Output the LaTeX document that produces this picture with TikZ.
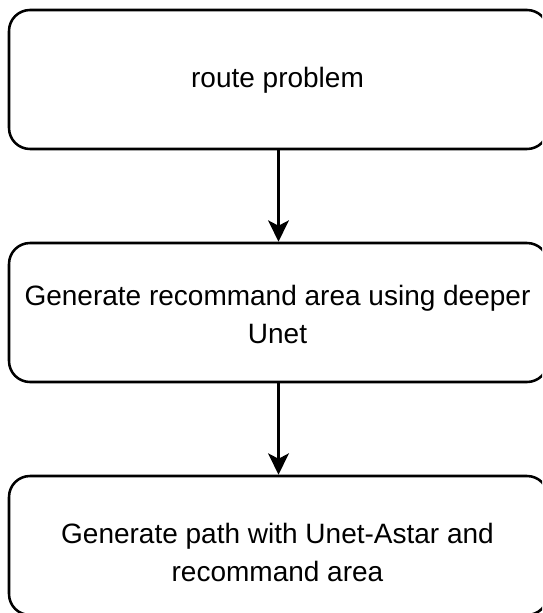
\documentclass[tikz,border=0pt]{standalone}
\usepackage{fontspec}
\setmainfont{Liberation Sans}
\usetikzlibrary{arrows.meta}

\tikzset{
  stepbox/.style={draw, line width=1.9pt, rounded corners=15.75pt, minimum width=404.25pt, minimum height=104.25pt, inner sep=0pt},
  linetext/.style={anchor=base, inner sep=0.75pt, font=\fontsize{21pt}{28.5pt}\selectfont},
  flow/.style={line width=1.9pt, -{Stealth[length=16pt, width=15.5pt, inset=4pt]}}
}

\begin{document}
\begin{tikzpicture}[x=0.75pt,y=0.75pt,yscale=-1,xscale=1]
\useasboundingbox (0,0) rectangle (542,613);
\clip (0,0) rectangle (542,613);

%Rounded Rect
\node [stepbox] (route) at (278.5,79.5) {};
%Rounded Rect
\node [stepbox] (recom) at (278.5,312.5) {};
%Rounded Rect
\node [stepbox] (path) at (278.5,545.5) {};

% Text Node
\node [linetext] (routetxt) at (277.5,88) {route problem};
% Text Node
\node [linetext] (recomtxta) at (277.5,305) {Generate recommand area using deeper};
\node [linetext] (recomtxtb) at (277.5,343) {Unet};
% Text Node
\node [linetext] (pathtxta) at (277.5,543) {Generate path with Unet-Astar and};
\node [linetext] (pathtxtb) at (277.5,581) {recommand area};

%Straight Lines
\draw [flow] (route) -- (recom);
%Straight Lines
\draw [flow] (recom) -- (path);

\end{tikzpicture}
\end{document}
